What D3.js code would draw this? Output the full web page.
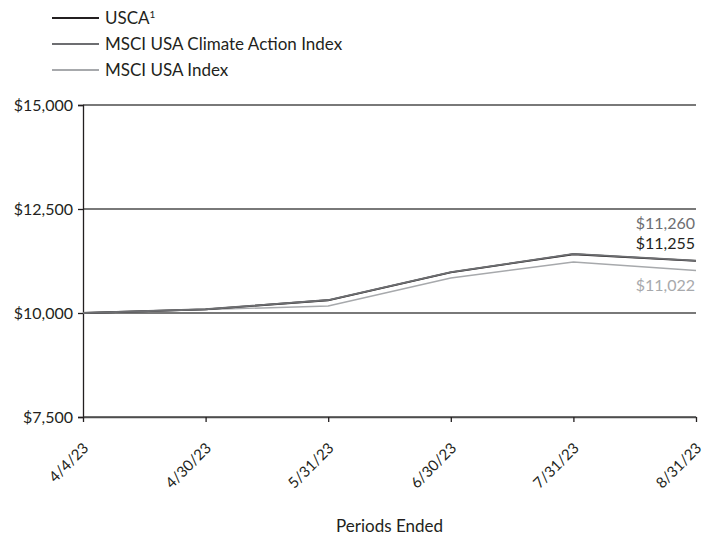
<!DOCTYPE html>
<html>
<head>
<meta charset="utf-8">
<script src="https://cdn.jsdelivr.net/npm/d3@7"></script>
<style>
  html, body { margin: 0; padding: 0; background: #fff; }
  svg text { font-family: "Lato", "Open Sans", sans-serif; }
</style>
</head>
<body>
<svg id="chart" width="706" height="537"></svg>
<script>
// Growth of a hypothetical $10,000 investment
const periods = ["4/4/23", "4/30/23", "5/31/23", "6/30/23", "7/31/23", "8/31/23"];
const uscaValues    = [10000, 10088, 10306, 10975, 11412, 11255];
const climateValues = [10000, 10090, 10312, 10984, 11420, 11260];
const msciUsaValues = [10000, 10082, 10168, 10841, 11226, 11022];
const yTicks = [7500, 10000, 12500, 15000];

const seriesNames  = ["USCA", "MSCI USA Climate Action Index", "MSCI USA Index"];
const seriesColors = ["#231f20", "#6d6e71", "#a7a9ac"];
const seriesData   = [uscaValues, climateValues, msciUsaValues];

const svg = d3.select("#chart");
const margin = { left: 83, right: 10, top: 105, bottom: 120 };
const width = 706, height = 537;

const x = d3.scalePoint().domain(periods).range([margin.left, width - margin.right]);
const y = d3.scaleLinear().domain([7500, 15000]).range([height - margin.bottom, margin.top]);

const fmt = d => "$" + d3.format(",")(d);

// horizontal gridlines
svg.append("g")
  .selectAll("line")
  .data(yTicks)
  .join("line")
  .attr("x1", margin.left).attr("x2", width - margin.right)
  .attr("y1", d => y(d)).attr("y2", d => y(d))
  .attr("stroke", "#4d4d4d").attr("stroke-width", 1.3);

// y axis
const yAxis = svg.append("g")
  .attr("transform", `translate(${margin.left},0)`)
  .call(d3.axisLeft(y).tickValues(yTicks).tickFormat(fmt).tickSize(5).tickPadding(5));
yAxis.select(".domain").attr("stroke", "#231f20").attr("stroke-width", 1.3);
yAxis.selectAll(".tick line").attr("stroke", "#231f20").attr("stroke-width", 1.3);
yAxis.selectAll("text").attr("font-size", 16).attr("fill", "#231f20");

// x axis
const xAxis = svg.append("g")
  .attr("transform", `translate(0,${y(7500)})`)
  .call(d3.axisBottom(x).tickSize(5).tickSizeOuter(0));
xAxis.select(".domain").attr("stroke", "#4d4d4d").attr("stroke-width", 1.3);
xAxis.selectAll(".tick line").attr("stroke", "#231f20").attr("stroke-width", 1.3);
xAxis.selectAll("text")
  .attr("font-size", 15).attr("fill", "#231f20")
  .attr("text-anchor", "end")
  .attr("dy", null).attr("y", 0)
  .attr("transform", "translate(6,32) rotate(-45)");

// series lines, lightest first so the darker lines sit on top
const line = d3.line().x((d, i) => x(periods[i])).y(d => y(d));
[2, 0, 1].forEach(k => {
  svg.append("path")
    .datum(seriesData[k])
    .attr("fill", "none")
    .attr("stroke", seriesColors[k])
    .attr("stroke-width", k === 2 ? 1.5 : 1.8)
    .attr("d", line);
});

// end-value labels
const last = periods[periods.length - 1];
const endLabels = [
  { v: climateValues[climateValues.length - 1], c: seriesColors[1], dy: -37 },
  { v: uscaValues[uscaValues.length - 1], c: seriesColors[0], dy: -17 },
  { v: msciUsaValues[msciUsaValues.length - 1], c: seriesColors[2], dy: 15 }
];
svg.append("g")
  .selectAll("text")
  .data(endLabels)
  .join("text")
  .attr("x", x(last) - 1)
  .attr("y", d => y(d.v) + d.dy)
  .attr("dy", "0.35em")
  .attr("text-anchor", "end")
  .attr("font-size", 16)
  .attr("fill", d => d.c)
  .text(d => fmt(d.v));

// legend
const legend = svg.append("g");
seriesNames.forEach((name, i) => {
  const ly = 18 + i * 26;
  legend.append("line")
    .attr("x1", 52).attr("x2", 99)
    .attr("y1", ly).attr("y2", ly)
    .attr("stroke", seriesColors[i]).attr("stroke-width", 2.2);
  const t = legend.append("text")
    .attr("x", 105).attr("y", ly).attr("dy", "0.35em")
    .attr("font-size", 17).attr("fill", "#231f20")
    .text(name);
  if (i === 0) {
    t.append("tspan").attr("font-size", 10).attr("dy", "-0.6em").text("1");
  }
});

// x axis title
svg.append("text")
  .attr("x", (margin.left + width - margin.right) / 2)
  .attr("y", 526)
  .attr("dy", "0.35em")
  .attr("text-anchor", "middle")
  .attr("font-size", 17)
  .attr("fill", "#231f20")
  .text("Periods Ended");
</script>
</body>
</html>
